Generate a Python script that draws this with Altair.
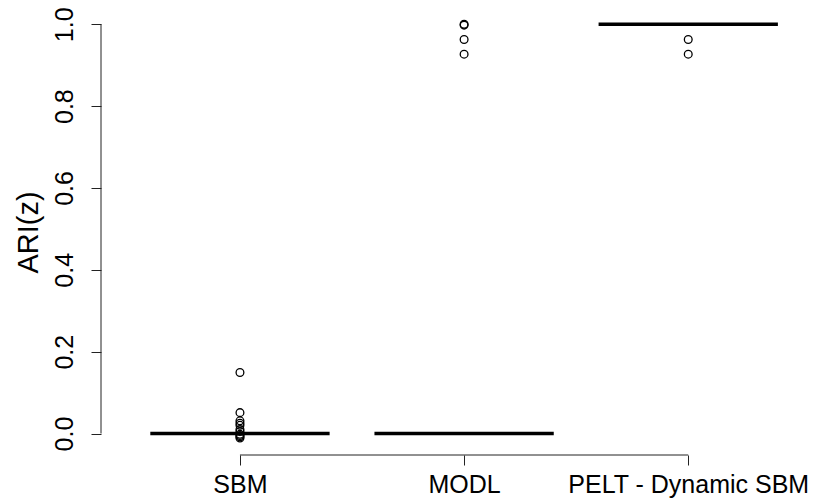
import altair as alt
import pandas as pd

# ---- data ----
categories = ["SBM", "MODL", "PELT - Dynamic SBM"]
medians = [0.0, 0.0, 1.0]
sbm_outliers = [0.149, 0.051, 0.031, 0.025, 0.02, 0.01, 0.005, -0.002, -0.005, -0.008, -0.011]
modl_outliers = [1.0, 0.998, 0.963, 0.927]
pelt_outliers = [0.963, 0.927]
y_ticks = [0.0, 0.2, 0.4, 0.6, 0.8, 1.0]

x_domain = [0.38, 3.512]
y_domain = [-0.0525, 1.0398]

pos = list(range(1, len(categories) + 1))
box_df = pd.DataFrame({"pos": pos, "category": categories, "median": medians})

rows = []
for p, vals in zip(pos, [sbm_outliers, modl_outliers, pelt_outliers]):
    for v in vals:
        rows.append({"pos": p, "value": v})
out_df = pd.DataFrame(rows)

yaxis_df = pd.DataFrame({"x": [x_domain[0]], "y0": [y_ticks[0]], "y1": [y_ticks[-1]]})
xaxis_df = pd.DataFrame({"y": [y_domain[0]], "x0": [pos[0]], "x1": [pos[-1]]})

FONT = "Liberation Sans"
label_expr = "[" + ",".join("'" + c + "'" for c in categories) + "][datum.value - 1]"

xscale = alt.Scale(domain=x_domain, nice=False, zero=False)
yscale = alt.Scale(domain=y_domain, nice=False, zero=False)

x_axis = alt.Axis(
    values=pos, labelExpr=label_expr, domain=False, grid=False,
    tickSize=10, tickColor="#222", tickWidth=1,
    labelFont=FONT, labelFontSize=25, labelColor="black",
    labelBaseline="alphabetic", labelPadding=27, labelFlush=False,
    labelOverlap=False, labelBound=False, labelLimit=0, title=None,
)
y_axis = alt.Axis(
    values=y_ticks, format=".1f", domain=False, grid=False,
    tickSize=10, tickColor="#222", tickWidth=1,
    labelFont=FONT, labelFontSize=25, labelColor="black",
    labelAngle=270, labelAlign="center", labelBaseline="alphabetic",
    labelPadding=19, labelFlush=False, labelOverlap=False,
    title="ARI(z)", titleFont=FONT, titleFontSize=29, titleFontWeight="normal",
    titleColor="black", titleAngle=270, titleAlign="center",
    titleBaseline="alphabetic", titleX=-64, titleY=224,
)

medline = alt.Chart(box_df).transform_calculate(
    lo="datum.pos - 0.4", hi="datum.pos + 0.4"
).mark_rule(color="black", strokeWidth=3.5, strokeCap="butt").encode(
    x=alt.X("lo:Q", scale=xscale, axis=x_axis),
    x2="hi:Q",
    y=alt.Y("median:Q", scale=yscale, axis=y_axis),
)

points = alt.Chart(out_df).mark_point(
    shape="circle", filled=False, color="black", size=60, strokeWidth=1.3, opacity=1
).encode(
    x=alt.X("pos:Q", scale=xscale, axis=x_axis),
    y=alt.Y("value:Q", scale=yscale, axis=y_axis),
)

yline = alt.Chart(yaxis_df).mark_rule(color="#222", strokeWidth=1).encode(
    x=alt.X("x:Q", scale=xscale, axis=x_axis),
    y=alt.Y("y0:Q", scale=yscale, axis=y_axis),
    y2="y1:Q",
)

xline = alt.Chart(xaxis_df).mark_rule(color="#222", strokeWidth=1).encode(
    x=alt.X("x0:Q", scale=xscale, axis=x_axis),
    x2="x1:Q",
    y=alt.Y("y:Q", scale=yscale, axis=y_axis),
)

chart = alt.layer(medline, points, yline, xline).properties(
    width=702, height=447,
    autosize=alt.AutoSizeParams(type="none"),
    padding={"left": 93, "top": 0, "right": 7, "bottom": 46},
    background="white",
).configure_view(stroke=None)

chart.save("out.html", embed_options={"renderer": "svg", "actions": False})
